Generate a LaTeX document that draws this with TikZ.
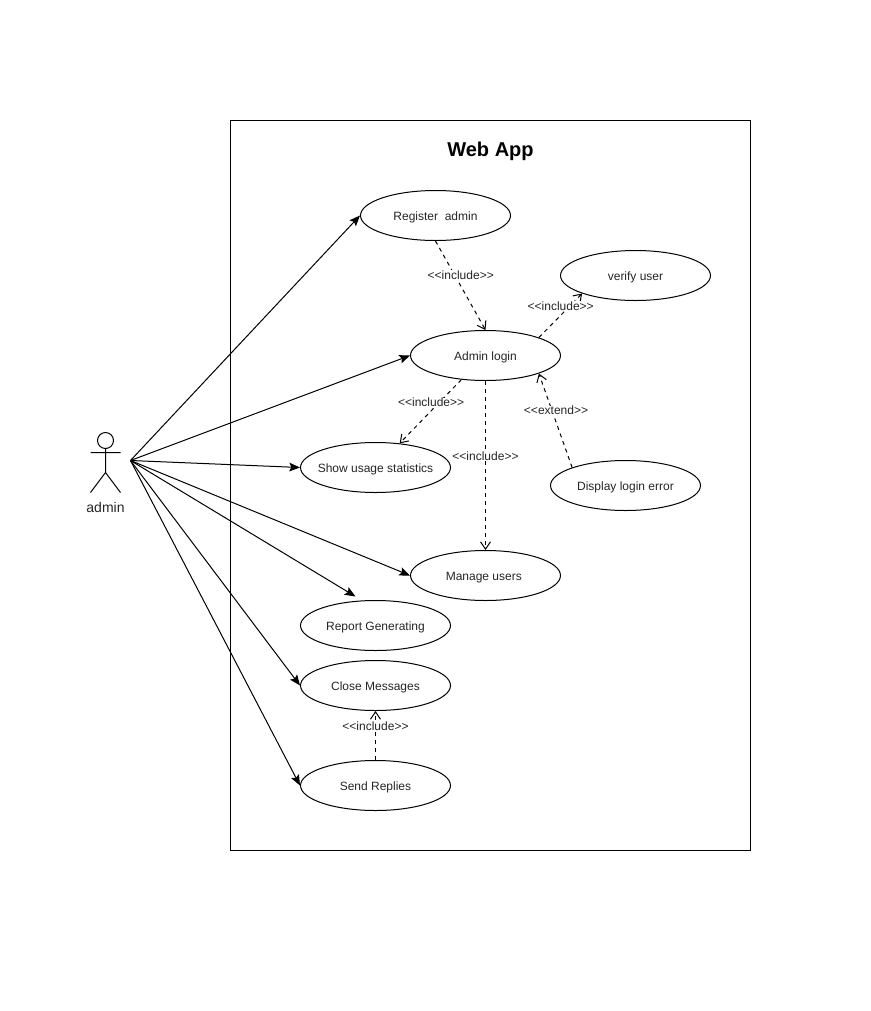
\documentclass[tikz,border=0pt]{standalone}
\usepackage{fontspec}
\setmainfont{Liberation Sans}
\usetikzlibrary{arrows.meta,shapes.geometric}

\begin{document}
\begin{tikzpicture}[x=0.75pt,y=-0.75pt,line width=0.75pt,
		use case/.style={ellipse,draw,fill=white,minimum width=112.5pt,minimum height=37.5pt,inner xsep=-5pt,inner ysep=0pt,text height=8pt,text depth=0.5pt,font=\fontsize{9}{11}\selectfont,text=black!85},
		assoc/.style={-{Stealth[length=8pt,width=6.5pt,inset=1.5pt]}},
		dep/.style={dashed,dash pattern=on 3pt off 3pt,-{Straight Barb[length=5.5pt,width=7.5pt]}},
		stereo/.style={fill=white,inner sep=0.5pt,font=\fontsize{9}{11}\selectfont,text=black!85}]
		
		\useasboundingbox (0,0) rectangle (871,1011);
		
		\node[draw,minimum width=390pt,minimum height=547.5pt,inner sep=0pt] (system) at (490.5,485.5) {};
		\node[font=\fontsize{15}{18}\selectfont\bfseries] (title) at (490.5,151) {Web App};
		
		\node[use case] (register) at (435.5,215.5) {Register\ \ admin};
		\node[use case] (verify) at (635.5,275.5) {verify user};
		\node[use case] (login) at (485.5,355.5) {Admin login};
		\node[use case] (stats) at (375.5,467.5) {Show usage statistics};
		\node[use case] (error) at (625.5,485.5) {Display login error};
		\node[use case] (manage) at (485.5,575.5) {Manage users\ \null};
		\node[use case] (report) at (375.5,625.5) {Report Generating};
		\node[use case] (close) at (375.5,685.5) {Close Messages};
		\node[use case] (send) at (375.5,785.5) {Send Replies};
		
		% stick figure
		\node[circle,draw,minimum size=12pt,inner sep=0pt] (head) at (105.5,440.5) {};
		\coordinate (hip) at (105.5,472.5);
		\coordinate (armL) at (90.5,452.5);
		\coordinate (armR) at (120.5,452.5);
		\coordinate (footL) at (90.5,492.5);
		\coordinate (footR) at (120.5,492.5);
		\draw (head.south) -- (hip) (armL) -- (armR) (footL) -- (hip) -- (footR);
		\node[font=\fontsize{10.5}{12}\selectfont,text=black!85] (admin) at (105.5,507) {admin};
		
		\coordinate (hub) at (130.5,460.5);
		\coordinate (reportTip) at (355.5,596.5);
		
		\path[assoc]
		(hub) edge (register.west)
		(hub) edge (login.west)
		(hub) edge (stats.west)
		(hub) edge (manage.west)
		(hub) edge (reportTip)
		(hub) edge (close.west)
		(hub) edge (send.west);
		
		\path[dep]
		(register.south) edge node[stereo,pos=0.385,xshift=4.5pt] {<{}<include>{}>} (login.north)
		(login.north east) edge node[stereo,pos=0.72,xshift=-7pt] {<{}<include>{}>} (verify.south west)
		(login.225) edge node[stereo,pos=0.36,xshift=-6pt] {<{}<include>{}>} (stats.45)
		(login.south) edge node[stereo,pos=0.445] {<{}<include>{}>} (manage.north)
		(error.north west) edge node[stereo,pos=0.605,xshift=3pt] {<{}<extend>{}>} (login.south east)
		(send.north) edge node[stereo,pos=0.7] {<{}<include>{}>} (close.south);
		\end{tikzpicture}
\end{document}
